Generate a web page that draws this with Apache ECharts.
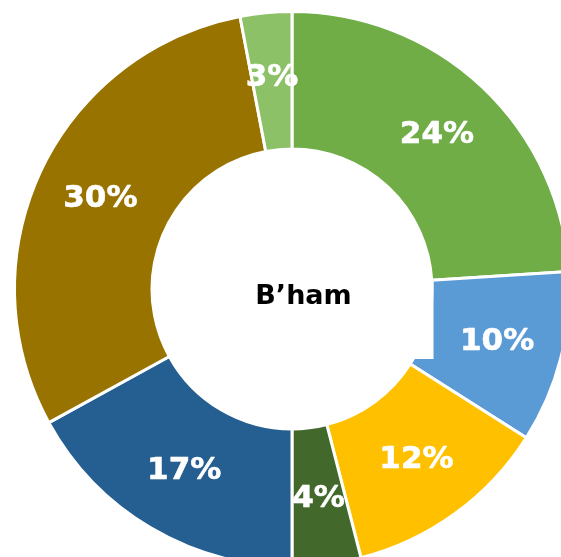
<!DOCTYPE html>
<html>
<head>
<meta charset="utf-8">
<script src="https://cdn.jsdelivr.net/npm/echarts@6/dist/echarts.min.js"></script>
<style>
html,body{margin:0;padding:0;background:#fff;}
#chart{width:561px;height:557px;}
</style>
</head>
<body>
<div id="chart"></div>
<script>
const categories = ['A', 'B', 'C', 'D', 'E', 'F', 'G'];
const values = [24, 10, 12, 4, 17, 30, 3];
const colors = ['#70AD47', '#5B9BD5', '#FFC000', '#43682B', '#255E91', '#997300', '#8CC168'];
const centerLabel = 'B\u2019ham';

const chart = echarts.init(document.getElementById('chart'), null, {renderer: 'canvas'});
chart.setOption({
  backgroundColor: '#ffffff',
  animation: false,
  series: [{
    type: 'pie',
    center: [292, 289],
    radius: [140, 277.5],
    startAngle: 90,
    clockwise: true,
    avoidLabelOverlap: false,
    itemStyle: {borderColor: '#ffffff', borderWidth: 3},
    label: {
      show: true,
      position: 'inside',
      formatter: '{c}%',
      color: '#ffffff',
      fontFamily: 'DejaVu Sans',
      fontWeight: 'bold',
      fontSize: 31,
      textBorderColor: '#ffffff',
      textBorderWidth: 0.6
    },
    labelLine: {show: false},
    emphasis: {disabled: true},
    data: categories.map((c, i) => ({name: c, value: values[i], itemStyle: {color: colors[i]}}))
  }],
  graphic: [
    {type: 'rect', z: 100, shape: {x: 380, y: 279, width: 53.5, height: 80}, style: {fill: '#ffffff'}},
    {type: 'text', z: 101, x: 303.5, y: 297, style: {text: centerLabel, fill: '#000000', font: 'bold 27px "DejaVu Sans"', textAlign: 'center', textVerticalAlign: 'middle'}}
  ]
});
</script>
</body>
</html>
